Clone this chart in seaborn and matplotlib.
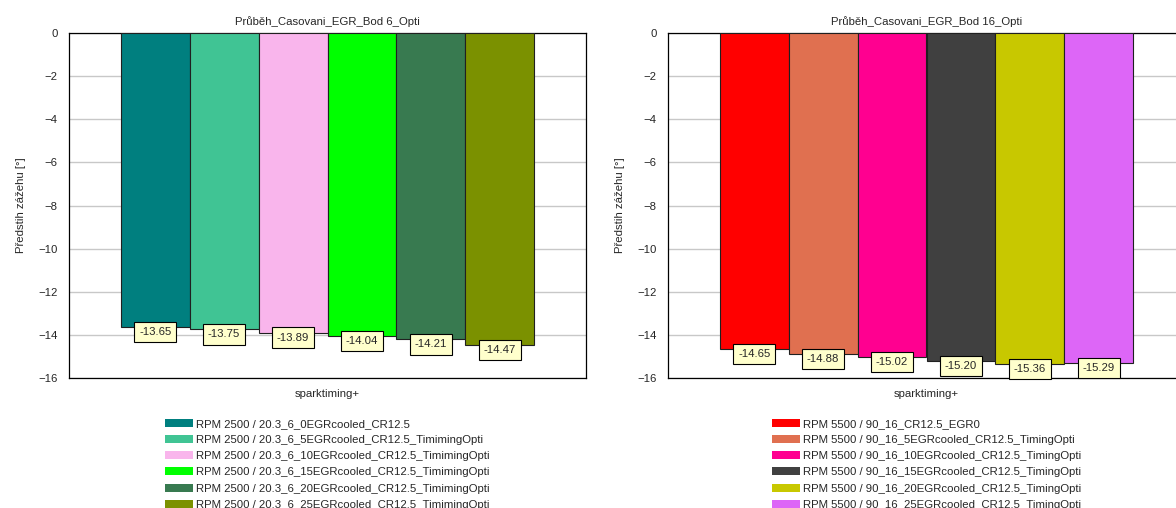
import pandas as pd
import matplotlib
matplotlib.use("Agg")
import matplotlib.pyplot as plt
import seaborn as sns

# data
category = "sparktiming+"

runs_6 = [
    "RPM 2500 / 20.3_6_0EGRcooled_CR12.5",
    "RPM 2500 / 20.3_6_5EGRcooled_CR12.5_TimimingOpti",
    "RPM 2500 / 20.3_6_10EGRcooled_CR12.5_TimimingOpti",
    "RPM 2500 / 20.3_6_15EGRcooled_CR12.5_TimimingOpti",
    "RPM 2500 / 20.3_6_20EGRcooled_CR12.5_TimimingOpti",
    "RPM 2500 / 20.3_6_25EGRcooled_CR12.5_TimimingOpti",
]
values_6 = [-13.65, -13.75, -13.89, -14.04, -14.21, -14.47]
colors_6 = ["#007F7F", "#40C494", "#F9B5EC", "#00FF00", "#387A50", "#7B9100"]

runs_16 = [
    "RPM 5500 / 90_16_CR12.5_EGR0",
    "RPM 5500 / 90_16_5EGRcooled_CR12.5_TimingOpti",
    "RPM 5500 / 90_16_10EGRcooled_CR12.5_TimingOpti",
    "RPM 5500 / 90_16_15EGRcooled_CR12.5_TimingOpti",
    "RPM 5500 / 90_16_20EGRcooled_CR12.5_TimingOpti",
    "RPM 5500 / 90_16_25EGRcooled_CR12.5_TimingOpti",
]
values_16 = [-14.65, -14.88, -15.02, -15.20, -15.36, -15.29]
colors_16 = ["#FF0000", "#E07050", "#FF0090", "#404040", "#C8C800", "#DD66F7"]

titles = ["Průběh_Casovani_EGR_Bod 6_Opti", "Průběh_Casovani_EGR_Bod 16_Opti"]
ylabel = "Předstih zážehu [°]"
yticks = [0, -2, -4, -6, -8, -10, -12, -14, -16]

sns.set_style("white")
plt.rcParams['font.family'] = ['Liberation Sans', 'DejaVu Sans']
fs = 8.2
plt.rcParams['font.size'] = fs

W, H = 1176, 508
fig = plt.figure(figsize=(W / 100, H / 100), dpi=100)

panels = [
    (runs_6, values_6, colors_6, titles[0], 69, 165),
    (runs_16, values_16, colors_16, titles[1], 668, 772),
]

for runs, values, colors, title, left_px, leg_px in panels:
    ax = fig.add_axes([left_px / W, 1 - 378 / H, 517 / W, 345 / H])
    df = pd.DataFrame({'cat': [category] * len(runs), 'run': runs, 'value': values})
    sns.barplot(data=df, x='cat', y='value', hue='run', palette=colors,
                width=0.8, edgecolor='#202020', linewidth=0.8, saturation=1,
                ax=ax, zorder=3)

    for cont in ax.containers:
        ax.bar_label(cont, fmt='%.2f', padding=0, fontsize=fs, zorder=5,
                     bbox=dict(boxstyle='square,pad=0.45', fc='#FFFFCC',
                               ec='black', lw=0.8))

    ax.set_ylim(-16, 0)
    ax.set_xlim(-0.5, 0.5)
    ax.set_yticks(yticks)
    ax.yaxis.grid(True, color='#C8C8C8', linewidth=1, zorder=0)
    ax.set_axisbelow(True)
    ax.tick_params(axis='y', direction='in', length=5, width=0.8,
                   color='black', pad=8, labelsize=fs)
    ax.tick_params(axis='x', length=0, labelbottom=False)
    for s in ax.spines.values():
        s.set_visible(True)
        s.set_color('black')
        s.set_linewidth(0.9)

    ax.set_title(title, fontsize=fs, pad=6)
    ax.set_xlabel(category, fontsize=fs, labelpad=8)
    ax.set_ylabel(ylabel, fontsize=fs, labelpad=9)

    sns.move_legend(ax, 'upper left',
                    bbox_to_anchor=(leg_px / W, 1 - 419 / H),
                    bbox_transform=fig.transFigure, frameon=False,
                    title=None, fontsize=fs, borderpad=0, borderaxespad=0,
                    handlelength=2.5, handleheight=0.7, handletextpad=0.2,
                    labelspacing=0.54)
    for h in ax.get_legend().legend_handles:
        h.set_edgecolor('none')

fig.savefig('out.png', dpi=100)
